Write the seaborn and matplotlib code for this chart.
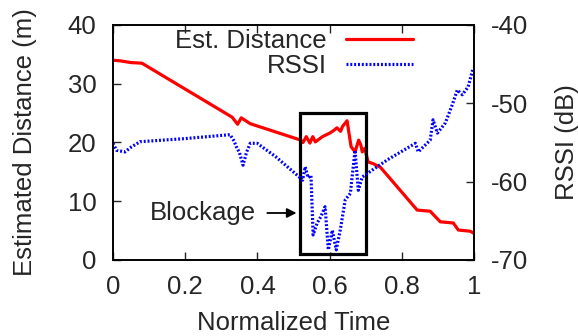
import matplotlib
matplotlib.use("Agg")
import matplotlib.pyplot as plt
from matplotlib.patches import Rectangle
import seaborn as sns

# estimated distance (m) over normalized time
dist_t = [0.0, 0.02, 0.05, 0.08, 0.33, 0.34, 0.345, 0.355, 0.38, 0.52, 0.526, 0.535,
          0.545, 0.553, 0.56, 0.58, 0.6, 0.61, 0.62, 0.63, 0.635, 0.648, 0.659,
          0.67, 0.68, 0.686, 0.69, 0.697, 0.706, 0.72, 0.74, 0.842, 0.878, 0.906,
          0.942, 0.956, 0.989, 1.0]
dist_m = [34.0, 33.9, 33.6, 33.5, 24.3, 23.5, 23.1, 24.2, 23.2, 20.4, 20.0, 21.0,
          19.9, 21.0, 20.1, 21.0, 21.6, 22.0, 22.5, 21.9, 22.7, 23.7, 19.3,
          18.4, 20.4, 19.6, 18.4, 19.0, 16.7, 16.4, 15.8, 8.5, 8.3, 6.5,
          6.3, 5.1, 4.9, 4.5]

# RSSI (dB) over normalized time
rssi_t = [0.0, 0.01, 0.033, 0.05, 0.075, 0.2, 0.324, 0.335, 0.341, 0.35, 0.36, 0.37,
          0.38, 0.399, 0.45, 0.518, 0.525, 0.532, 0.54, 0.548, 0.554, 0.565, 0.575,
          0.587, 0.596, 0.607, 0.618, 0.629, 0.643, 0.657, 0.670, 0.679, 0.690,
          0.712, 0.76, 0.837, 0.845, 0.878, 0.886, 0.898, 0.920, 0.939, 0.953,
          0.967, 0.983, 0.997]
rssi_db = [-55.1, -56.0, -56.2, -55.6, -54.9, -54.5, -54.0, -54.8, -55.5, -56.3, -57.9, -56.2,
           -55.1, -55.1, -56.8, -59.5, -59.8, -58.1, -59.5, -59.2, -66.8, -65.3, -64.5,
           -63.2, -68.7, -66.2, -68.7, -66.2, -62.3, -61.5, -56.0, -61.1, -59.4,
           -58.7, -57.2, -55.1, -56.2, -54.7, -52.1, -53.8, -52.5, -50.2, -48.3,
           -48.9, -47.9, -45.5]

x_ticks = [0, 0.2, 0.4, 0.6, 0.8, 1]
x_labels = ["0", "0.2", "0.4", "0.6", "0.8", "1"]
dist_ticks = [0, 10, 20, 30, 40]
rssi_ticks = [-70, -60, -50, -40]

box_x = (0.518, 0.701)
box_y = (1.0, 25.0)
arrow_y = 8.0

sns.set_style("ticks")
plt.rcParams["font.family"] = ["Liberation Sans", "DejaVu Sans"]
plt.rcParams["axes.unicode_minus"] = False
fs = 18.5

fig = plt.figure(figsize=(5.78, 3.36), dpi=100)
ax = fig.add_axes([0.1955, 0.2262, 0.625, 0.6994])
ax2 = ax.twinx()

sns.lineplot(x=dist_t, y=dist_m, ax=ax, color="#ff0000", linewidth=2.3,
             label="Est. Distance", legend=False)
sns.lineplot(x=rssi_t, y=rssi_db, ax=ax2, color="#0000ff", linewidth=2.3,
             linestyle=(0, (0.6, 0.6)), label="RSSI", legend=False)

ax.set_xlim(0, 1)
ax.set_ylim(0, 40)
ax2.set_ylim(-70, -40)
ax.set_xticks(x_ticks)
ax.set_xticklabels(x_labels)
ax.set_yticks(dist_ticks)
ax2.set_yticks(rssi_ticks)

ax.tick_params(axis="x", direction="in", length=6, width=1, top=True, labelsize=fs, pad=11)
ax.tick_params(axis="y", direction="in", length=6, width=1, labelsize=fs, pad=12)
ax2.tick_params(direction="in", length=6, width=1, labelsize=fs, pad=12)
for a in (ax, ax2):
    for s in a.spines.values():
        s.set_linewidth(1.2)
        s.set_color("black")

ax.set_xlabel("Normalized Time", fontsize=fs, labelpad=8.5)
ax.set_ylabel("Estimated Distance (m)", fontsize=fs, labelpad=22)
ax2.set_ylabel("RSSI (dB)", fontsize=fs, labelpad=19)

ax.add_patch(Rectangle((box_x[0], box_y[0]), box_x[1] - box_x[0], box_y[1] - box_y[0],
                       fill=False, edgecolor="black", linewidth=2.3, zorder=5))
ax.annotate("Blockage", xy=(box_x[0] - 0.01, arrow_y), xytext=(0.395, arrow_y),
            ha="right", va="center", fontsize=fs,
            arrowprops=dict(arrowstyle="-|>", color="black", lw=1.3,
                            shrinkA=6, shrinkB=0, mutation_scale=14))

h1, l1 = ax.get_legend_handles_labels()
h2, l2 = ax2.get_legend_handles_labels()
ax2.legend(h1 + h2, l1 + l2, loc="upper right", bbox_to_anchor=(0.831, 0.985),
           frameon=False, markerfirst=False, fontsize=fs, handlelength=2.6,
           labelspacing=0.05, handletextpad=0.75, borderpad=0, borderaxespad=0)

fig.savefig("out.png", dpi=100)
